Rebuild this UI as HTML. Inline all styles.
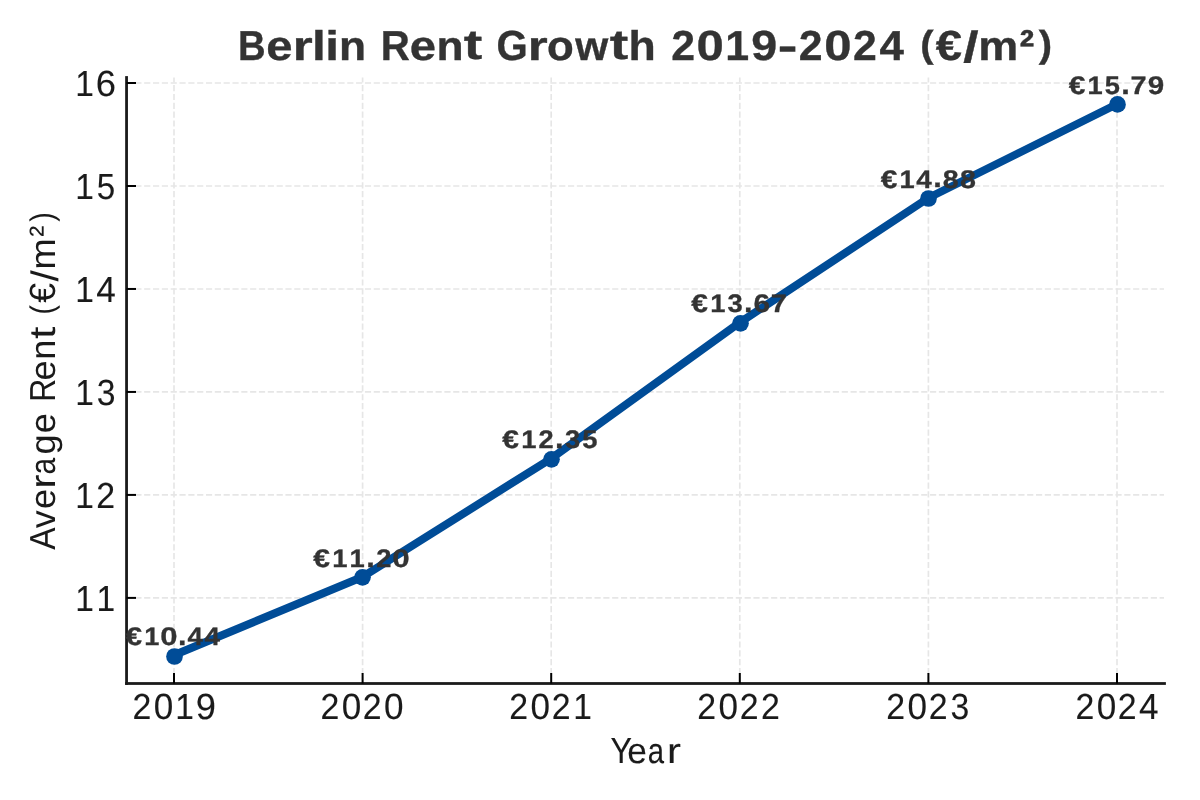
<!DOCTYPE html>
<html><head><meta charset="utf-8"><title>Berlin Rent Growth 2019–2024</title>
<style>
html,body{margin:0;padding:0;background:#fff;}
body{width:1200px;height:800px;overflow:hidden;}
svg{display:block;will-change:transform;}
text{font-family:"Liberation Sans",sans-serif;font-kerning:none;text-rendering:geometricPrecision;}
</style></head>
<body>
<svg width="1200" height="800" viewBox="0 0 1200 800">
<rect width="1200" height="800" fill="#fff"/>
<line x1="126.5" y1="597.90" x2="1164.0" y2="597.90" stroke="#e6e6e6" stroke-width="1.67" stroke-dasharray="6.17 2.66"/>
<line x1="126.5" y1="494.92" x2="1164.0" y2="494.92" stroke="#e6e6e6" stroke-width="1.67" stroke-dasharray="6.17 2.66"/>
<line x1="126.5" y1="391.94" x2="1164.0" y2="391.94" stroke="#e6e6e6" stroke-width="1.67" stroke-dasharray="6.17 2.66"/>
<line x1="126.5" y1="288.96" x2="1164.0" y2="288.96" stroke="#e6e6e6" stroke-width="1.67" stroke-dasharray="6.17 2.66"/>
<line x1="126.5" y1="185.98" x2="1164.0" y2="185.98" stroke="#e6e6e6" stroke-width="1.67" stroke-dasharray="6.17 2.66"/>
<line x1="126.5" y1="83.00" x2="1164.0" y2="83.00" stroke="#e6e6e6" stroke-width="1.67" stroke-dasharray="6.17 2.66"/>
<line x1="174.00" y1="683.5" x2="174.00" y2="77.5" stroke="#e6e6e6" stroke-width="1.67" stroke-dasharray="6.17 2.66" stroke-dashoffset="-0.6"/>
<line x1="362.60" y1="683.5" x2="362.60" y2="77.5" stroke="#e6e6e6" stroke-width="1.67" stroke-dasharray="6.17 2.66" stroke-dashoffset="-0.6"/>
<line x1="551.20" y1="683.5" x2="551.20" y2="77.5" stroke="#e6e6e6" stroke-width="1.67" stroke-dasharray="6.17 2.66" stroke-dashoffset="-0.6"/>
<line x1="739.80" y1="683.5" x2="739.80" y2="77.5" stroke="#e6e6e6" stroke-width="1.67" stroke-dasharray="6.17 2.66" stroke-dashoffset="-0.6"/>
<line x1="928.40" y1="683.5" x2="928.40" y2="77.5" stroke="#e6e6e6" stroke-width="1.67" stroke-dasharray="6.17 2.66" stroke-dashoffset="-0.6"/>
<line x1="1117.00" y1="683.5" x2="1117.00" y2="77.5" stroke="#e6e6e6" stroke-width="1.67" stroke-dasharray="6.17 2.66" stroke-dashoffset="-0.6"/>
<polyline points="174.30,654.97 362.90,576.70 551.50,458.28 740.10,322.34 928.70,197.74 1117.30,104.03" fill="none" stroke="#004c97" stroke-width="8.0" stroke-linejoin="round" stroke-linecap="butt"/>
<circle cx="174.5" cy="656.5" r="8.33" fill="#004c97"/>
<circle cx="362.5" cy="577.3" r="8.33" fill="#004c97"/>
<circle cx="551.5" cy="459.3" r="8.33" fill="#004c97"/>
<circle cx="740.5" cy="323.3" r="8.33" fill="#004c97"/>
<circle cx="928.5" cy="198.5" r="8.33" fill="#004c97"/>
<circle cx="1117.5" cy="104.4" r="8.33" fill="#004c97"/>
<rect x="125.16" y="76.11" width="2.78" height="608.78" fill="#1a1a1a"/>
<rect x="125.16" y="682.11" width="1040.73" height="2.78" fill="#1a1a1a"/>
<line x1="126.5" y1="597.90" x2="136.00" y2="597.90" stroke="#000" stroke-width="2"/>
<line x1="126.5" y1="494.92" x2="136.00" y2="494.92" stroke="#000" stroke-width="2"/>
<line x1="126.5" y1="391.94" x2="136.00" y2="391.94" stroke="#000" stroke-width="2"/>
<line x1="126.5" y1="288.96" x2="136.00" y2="288.96" stroke="#000" stroke-width="2"/>
<line x1="126.5" y1="185.98" x2="136.00" y2="185.98" stroke="#000" stroke-width="2"/>
<line x1="126.5" y1="83.00" x2="136.00" y2="83.00" stroke="#000" stroke-width="2"/>
<line x1="174.00" y1="683.5" x2="174.00" y2="673.00" stroke="#000" stroke-width="2"/>
<line x1="362.60" y1="683.5" x2="362.60" y2="673.00" stroke="#000" stroke-width="2"/>
<line x1="551.20" y1="683.5" x2="551.20" y2="673.00" stroke="#000" stroke-width="2"/>
<line x1="739.80" y1="683.5" x2="739.80" y2="673.00" stroke="#000" stroke-width="2"/>
<line x1="928.40" y1="683.5" x2="928.40" y2="673.00" stroke="#000" stroke-width="2"/>
<line x1="1117.00" y1="683.5" x2="1117.00" y2="673.00" stroke="#000" stroke-width="2"/>
<text font-size="26.49" font-weight="bold" fill="#333333" stroke="#333333" stroke-width="0.3" vector-effect="non-scaling-stroke"><tspan x="125.55" y="644.79" font-size="25.51" textLength="16.60" lengthAdjust="spacingAndGlyphs">€</tspan><tspan x="144.33" y="644.70" font-size="25.30" textLength="15.11" lengthAdjust="spacingAndGlyphs">1</tspan><tspan x="160.33" y="644.79" font-size="25.51" textLength="17.25" lengthAdjust="spacingAndGlyphs">0</tspan><tspan x="177.91" y="644.61" font-size="29.09" textLength="8.51" lengthAdjust="spacingAndGlyphs">.</tspan><tspan x="187.50" y="644.70" font-size="25.30" textLength="15.44" lengthAdjust="spacingAndGlyphs">4</tspan><tspan x="204.61" y="644.70" font-size="25.30" textLength="15.44" lengthAdjust="spacingAndGlyphs">4</tspan></text>
<text font-size="26.49" font-weight="bold" fill="#333333" stroke="#333333" stroke-width="0.3" vector-effect="non-scaling-stroke"><tspan x="313.35" y="567.09" font-size="25.51" textLength="16.75" lengthAdjust="spacingAndGlyphs">€</tspan><tspan x="332.30" y="567.00" font-size="25.30" textLength="15.24" lengthAdjust="spacingAndGlyphs">1</tspan><tspan x="349.56" y="567.00" font-size="25.30" textLength="15.24" lengthAdjust="spacingAndGlyphs">1</tspan><tspan x="366.18" y="566.91" font-size="29.09" textLength="8.58" lengthAdjust="spacingAndGlyphs">.</tspan><tspan x="376.19" y="567.00" font-size="25.38" textLength="15.18" lengthAdjust="spacingAndGlyphs">2</tspan><tspan x="392.38" y="567.09" font-size="25.51" textLength="17.41" lengthAdjust="spacingAndGlyphs">0</tspan></text>
<text font-size="26.49" font-weight="bold" fill="#333333" stroke="#333333" stroke-width="0.3" vector-effect="non-scaling-stroke"><tspan x="502.35" y="447.89" font-size="25.51" textLength="16.72" lengthAdjust="spacingAndGlyphs">€</tspan><tspan x="521.27" y="447.80" font-size="25.30" textLength="15.22" lengthAdjust="spacingAndGlyphs">1</tspan><tspan x="538.45" y="447.80" font-size="25.38" textLength="15.15" lengthAdjust="spacingAndGlyphs">2</tspan><tspan x="555.10" y="447.71" font-size="29.09" textLength="8.57" lengthAdjust="spacingAndGlyphs">.</tspan><tspan x="565.10" y="447.85" font-size="25.45" textLength="15.22" lengthAdjust="spacingAndGlyphs">3</tspan><tspan x="582.37" y="447.89" font-size="25.43" textLength="15.19" lengthAdjust="spacingAndGlyphs">5</tspan></text>
<text font-size="26.49" font-weight="bold" fill="#333333" stroke="#333333" stroke-width="0.3" vector-effect="non-scaling-stroke"><tspan x="691.35" y="311.89" font-size="25.51" textLength="16.71" lengthAdjust="spacingAndGlyphs">€</tspan><tspan x="710.26" y="311.80" font-size="25.30" textLength="15.21" lengthAdjust="spacingAndGlyphs">1</tspan><tspan x="727.44" y="311.85" font-size="25.45" textLength="15.21" lengthAdjust="spacingAndGlyphs">3</tspan><tspan x="744.06" y="311.71" font-size="29.09" textLength="8.56" lengthAdjust="spacingAndGlyphs">.</tspan><tspan x="753.48" y="311.89" font-size="25.47" textLength="16.52" lengthAdjust="spacingAndGlyphs">6</tspan><tspan x="770.66" y="311.80" font-size="25.30" textLength="16.11" lengthAdjust="spacingAndGlyphs">7</tspan></text>
<text font-size="26.49" font-weight="bold" fill="#333333" stroke="#333333" stroke-width="0.3" vector-effect="non-scaling-stroke"><tspan x="880.65" y="187.59" font-size="25.51" textLength="16.67" lengthAdjust="spacingAndGlyphs">€</tspan><tspan x="899.51" y="187.50" font-size="25.30" textLength="15.17" lengthAdjust="spacingAndGlyphs">1</tspan><tspan x="916.31" y="187.50" font-size="25.30" textLength="15.51" lengthAdjust="spacingAndGlyphs">4</tspan><tspan x="933.23" y="187.41" font-size="29.09" textLength="8.54" lengthAdjust="spacingAndGlyphs">.</tspan><tspan x="942.78" y="187.59" font-size="25.51" textLength="15.93" lengthAdjust="spacingAndGlyphs">8</tspan><tspan x="959.95" y="187.59" font-size="25.51" textLength="15.93" lengthAdjust="spacingAndGlyphs">8</tspan></text>
<text font-size="26.49" font-weight="bold" fill="#333333" stroke="#333333" stroke-width="0.3" vector-effect="non-scaling-stroke"><tspan x="1068.65" y="94.09" font-size="25.51" textLength="16.68" lengthAdjust="spacingAndGlyphs">€</tspan><tspan x="1087.52" y="94.00" font-size="25.30" textLength="15.18" lengthAdjust="spacingAndGlyphs">1</tspan><tspan x="1104.71" y="94.09" font-size="25.43" textLength="15.15" lengthAdjust="spacingAndGlyphs">5</tspan><tspan x="1121.26" y="93.91" font-size="29.09" textLength="8.55" lengthAdjust="spacingAndGlyphs">.</tspan><tspan x="1130.62" y="94.00" font-size="25.30" textLength="16.08" lengthAdjust="spacingAndGlyphs">7</tspan><tspan x="1147.65" y="94.09" font-size="25.47" textLength="16.45" lengthAdjust="spacingAndGlyphs">9</tspan></text>
<text font-size="35.32" font-weight="normal" fill="#1a1a1a" stroke="#1a1a1a" stroke-width="0.1" vector-effect="non-scaling-stroke"><tspan x="75.29" y="610.70" font-size="36.20" textLength="18.66" lengthAdjust="spacingAndGlyphs">1</tspan><tspan x="96.50" y="610.70" font-size="36.20" textLength="18.66" lengthAdjust="spacingAndGlyphs">1</tspan></text>
<text font-size="35.32" font-weight="normal" fill="#1a1a1a" stroke="#1a1a1a" stroke-width="0.1" vector-effect="non-scaling-stroke"><tspan x="75.29" y="507.72" font-size="36.20" textLength="18.66" lengthAdjust="spacingAndGlyphs">1</tspan><tspan x="96.13" y="507.72" font-size="36.32" textLength="18.84" lengthAdjust="spacingAndGlyphs">2</tspan></text>
<text font-size="35.32" font-weight="normal" fill="#1a1a1a" stroke="#1a1a1a" stroke-width="0.1" vector-effect="non-scaling-stroke"><tspan x="75.29" y="404.74" font-size="36.20" textLength="18.66" lengthAdjust="spacingAndGlyphs">1</tspan><tspan x="96.65" y="404.87" font-size="36.50" textLength="18.77" lengthAdjust="spacingAndGlyphs">3</tspan></text>
<text font-size="35.32" font-weight="normal" fill="#1a1a1a" stroke="#1a1a1a" stroke-width="0.1" vector-effect="non-scaling-stroke"><tspan x="75.29" y="301.76" font-size="36.20" textLength="18.66" lengthAdjust="spacingAndGlyphs">1</tspan><tspan x="96.21" y="301.76" font-size="36.20" textLength="19.54" lengthAdjust="spacingAndGlyphs">4</tspan></text>
<text font-size="35.32" font-weight="normal" fill="#1a1a1a" stroke="#1a1a1a" stroke-width="0.1" vector-effect="non-scaling-stroke"><tspan x="75.29" y="198.78" font-size="36.20" textLength="18.66" lengthAdjust="spacingAndGlyphs">1</tspan><tspan x="96.64" y="198.91" font-size="36.39" textLength="18.44" lengthAdjust="spacingAndGlyphs">5</tspan></text>
<text font-size="35.32" font-weight="normal" fill="#1a1a1a" stroke="#1a1a1a" stroke-width="0.1" vector-effect="non-scaling-stroke"><tspan x="75.29" y="95.80" font-size="36.20" textLength="18.66" lengthAdjust="spacingAndGlyphs">1</tspan><tspan x="95.87" y="95.93" font-size="36.50" textLength="20.23" lengthAdjust="spacingAndGlyphs">6</tspan></text>
<text font-size="35.32" font-weight="normal" fill="#1a1a1a" stroke="#1a1a1a" stroke-width="0.1" vector-effect="non-scaling-stroke"><tspan x="132.40" y="718.90" font-size="36.32" textLength="18.84" lengthAdjust="spacingAndGlyphs">2</tspan><tspan x="153.70" y="719.03" font-size="36.50" textLength="19.54" lengthAdjust="spacingAndGlyphs">0</tspan><tspan x="175.19" y="718.90" font-size="36.20" textLength="18.66" lengthAdjust="spacingAndGlyphs">1</tspan><tspan x="195.69" y="719.03" font-size="36.50" textLength="20.18" lengthAdjust="spacingAndGlyphs">9</tspan></text>
<text font-size="35.32" font-weight="normal" fill="#1a1a1a" stroke="#1a1a1a" stroke-width="0.1" vector-effect="non-scaling-stroke"><tspan x="320.40" y="718.90" font-size="36.32" textLength="18.84" lengthAdjust="spacingAndGlyphs">2</tspan><tspan x="341.70" y="719.03" font-size="36.50" textLength="19.54" lengthAdjust="spacingAndGlyphs">0</tspan><tspan x="362.82" y="718.90" font-size="36.32" textLength="18.84" lengthAdjust="spacingAndGlyphs">2</tspan><tspan x="384.11" y="719.03" font-size="36.50" textLength="19.54" lengthAdjust="spacingAndGlyphs">0</tspan></text>
<text font-size="35.32" font-weight="normal" fill="#1a1a1a" stroke="#1a1a1a" stroke-width="0.1" vector-effect="non-scaling-stroke"><tspan x="509.30" y="718.90" font-size="36.32" textLength="18.84" lengthAdjust="spacingAndGlyphs">2</tspan><tspan x="530.60" y="719.03" font-size="36.50" textLength="19.54" lengthAdjust="spacingAndGlyphs">0</tspan><tspan x="551.72" y="718.90" font-size="36.32" textLength="18.84" lengthAdjust="spacingAndGlyphs">2</tspan><tspan x="573.29" y="718.90" font-size="36.20" textLength="18.66" lengthAdjust="spacingAndGlyphs">1</tspan></text>
<text font-size="35.32" font-weight="normal" fill="#1a1a1a" stroke="#1a1a1a" stroke-width="0.1" vector-effect="non-scaling-stroke"><tspan x="697.30" y="718.90" font-size="36.32" textLength="18.84" lengthAdjust="spacingAndGlyphs">2</tspan><tspan x="718.60" y="719.03" font-size="36.50" textLength="19.54" lengthAdjust="spacingAndGlyphs">0</tspan><tspan x="739.72" y="718.90" font-size="36.32" textLength="18.84" lengthAdjust="spacingAndGlyphs">2</tspan><tspan x="760.93" y="718.90" font-size="36.32" textLength="18.84" lengthAdjust="spacingAndGlyphs">2</tspan></text>
<text font-size="35.32" font-weight="normal" fill="#1a1a1a" stroke="#1a1a1a" stroke-width="0.1" vector-effect="non-scaling-stroke"><tspan x="886.30" y="718.90" font-size="36.32" textLength="18.84" lengthAdjust="spacingAndGlyphs">2</tspan><tspan x="907.60" y="719.03" font-size="36.50" textLength="19.54" lengthAdjust="spacingAndGlyphs">0</tspan><tspan x="928.72" y="718.90" font-size="36.32" textLength="18.84" lengthAdjust="spacingAndGlyphs">2</tspan><tspan x="950.44" y="719.03" font-size="36.50" textLength="18.77" lengthAdjust="spacingAndGlyphs">3</tspan></text>
<text font-size="35.32" font-weight="normal" fill="#1a1a1a" stroke="#1a1a1a" stroke-width="0.1" vector-effect="non-scaling-stroke"><tspan x="1075.40" y="718.90" font-size="36.32" textLength="18.84" lengthAdjust="spacingAndGlyphs">2</tspan><tspan x="1096.70" y="719.03" font-size="36.50" textLength="19.54" lengthAdjust="spacingAndGlyphs">0</tspan><tspan x="1117.82" y="718.90" font-size="36.32" textLength="18.84" lengthAdjust="spacingAndGlyphs">2</tspan><tspan x="1139.11" y="718.90" font-size="36.20" textLength="19.54" lengthAdjust="spacingAndGlyphs">4</tspan></text>
<text font-size="35.32" font-weight="normal" fill="#1a1a1a" stroke="#1a1a1a" stroke-width="0.1" vector-effect="non-scaling-stroke"><tspan x="610.49" y="762.80" font-size="36.20" textLength="21.46" lengthAdjust="spacingAndGlyphs">Y</tspan><tspan x="627.15" y="762.93" font-size="35.81" textLength="19.59" lengthAdjust="spacingAndGlyphs">e</tspan><tspan x="647.63" y="762.93" font-size="35.81" textLength="16.31" lengthAdjust="spacingAndGlyphs">a</tspan><tspan x="667.08" y="762.80" font-size="35.56" textLength="13.91" lengthAdjust="spacingAndGlyphs">r</tspan></text>
<g transform="translate(54.80 549.70) rotate(-90)"><text font-size="35.32" font-weight="normal" fill="#1a1a1a"><tspan x="-0.07" y="0.00" font-size="36.20" textLength="22.39" lengthAdjust="spacingAndGlyphs">A</tspan><tspan x="21.45" y="0.00" font-size="35.37" textLength="17.98" lengthAdjust="spacingAndGlyphs">v</tspan><tspan x="40.61" y="0.13" font-size="35.81" textLength="20.02" lengthAdjust="spacingAndGlyphs">e</tspan><tspan x="61.00" y="0.00" font-size="35.56" textLength="14.22" lengthAdjust="spacingAndGlyphs">r</tspan><tspan x="75.24" y="0.13" font-size="35.81" textLength="16.67" lengthAdjust="spacingAndGlyphs">a</tspan><tspan x="95.25" y="-0.21" font-size="35.27" textLength="20.14" lengthAdjust="spacingAndGlyphs">g</tspan><tspan x="116.39" y="0.13" font-size="35.81" textLength="20.02" lengthAdjust="spacingAndGlyphs">e</tspan> <tspan x="147.83" y="0.00" font-size="36.20" textLength="23.02" lengthAdjust="spacingAndGlyphs">R</tspan><tspan x="169.14" y="0.13" font-size="35.81" textLength="20.02" lengthAdjust="spacingAndGlyphs">e</tspan><tspan x="189.97" y="0.00" font-size="35.56" textLength="19.98" lengthAdjust="spacingAndGlyphs">n</tspan><tspan x="210.68" y="-0.29" font-size="36.67" textLength="12.37" lengthAdjust="spacingAndGlyphs">t</tspan> <tspan x="235.23" y="-2.26" font-size="32.66" textLength="9.38" lengthAdjust="spacingAndGlyphs">(</tspan><tspan x="246.84" y="0.13" font-size="36.50" textLength="19.77" lengthAdjust="spacingAndGlyphs">€</tspan><tspan x="268.32" y="2.80" font-size="38.23" textLength="11.23" lengthAdjust="spacingAndGlyphs">/</tspan><tspan x="280.05" y="0.00" font-size="35.56" textLength="31.63" lengthAdjust="spacingAndGlyphs">m</tspan><tspan x="312.87" y="-1.82" font-size="33.93" textLength="11.02" lengthAdjust="spacingAndGlyphs">²</tspan><tspan x="327.87" y="-2.26" font-size="32.66" textLength="9.38" lengthAdjust="spacingAndGlyphs">)</tspan></text></g>
<text font-size="41.21" font-weight="bold" fill="#333333" stroke="#333333" stroke-width="0.35" vector-effect="non-scaling-stroke"><tspan x="237.94" y="59.70" font-size="41.83" textLength="27.63" lengthAdjust="spacingAndGlyphs">B</tspan><tspan x="266.39" y="59.85" font-size="41.37" textLength="26.28" lengthAdjust="spacingAndGlyphs">e</tspan><tspan x="292.82" y="59.70" font-size="41.05" textLength="19.95" lengthAdjust="spacingAndGlyphs">r</tspan><tspan x="311.92" y="59.70" font-size="41.39" textLength="13.76" lengthAdjust="spacingAndGlyphs">l</tspan><tspan x="325.24" y="59.70" font-size="41.39" textLength="13.76" lengthAdjust="spacingAndGlyphs">i</tspan><tspan x="339.11" y="59.70" font-size="41.05" textLength="27.04" lengthAdjust="spacingAndGlyphs">n</tspan> <tspan x="380.85" y="59.70" font-size="41.83" textLength="29.11" lengthAdjust="spacingAndGlyphs">R</tspan><tspan x="409.74" y="59.85" font-size="41.37" textLength="26.28" lengthAdjust="spacingAndGlyphs">e</tspan><tspan x="436.63" y="59.70" font-size="41.05" textLength="27.04" lengthAdjust="spacingAndGlyphs">n</tspan><tspan x="463.81" y="59.33" font-size="41.92" textLength="18.52" lengthAdjust="spacingAndGlyphs">t</tspan> <tspan x="496.38" y="59.85" font-size="42.17" textLength="31.25" lengthAdjust="spacingAndGlyphs">G</tspan><tspan x="527.89" y="59.70" font-size="41.05" textLength="19.95" lengthAdjust="spacingAndGlyphs">r</tspan><tspan x="547.13" y="59.85" font-size="41.37" textLength="26.80" lengthAdjust="spacingAndGlyphs">o</tspan><tspan x="575.38" y="59.70" font-size="40.86" textLength="33.00" lengthAdjust="spacingAndGlyphs">w</tspan><tspan x="609.65" y="59.33" font-size="41.92" textLength="18.52" lengthAdjust="spacingAndGlyphs">t</tspan><tspan x="628.54" y="59.70" font-size="41.39" textLength="27.26" lengthAdjust="spacingAndGlyphs">h</tspan> <tspan x="671.20" y="59.70" font-size="41.96" textLength="23.79" lengthAdjust="spacingAndGlyphs">2</tspan><tspan x="696.58" y="59.85" font-size="42.17" textLength="27.28" lengthAdjust="spacingAndGlyphs">0</tspan><tspan x="725.39" y="59.70" font-size="41.83" textLength="23.89" lengthAdjust="spacingAndGlyphs">1</tspan><tspan x="751.16" y="59.85" font-size="42.11" textLength="25.90" lengthAdjust="spacingAndGlyphs">9</tspan><tspan x="778.97" y="61.79" font-size="48.10" textLength="17.15" lengthAdjust="spacingAndGlyphs">–</tspan><tspan x="798.85" y="59.70" font-size="41.96" textLength="23.79" lengthAdjust="spacingAndGlyphs">2</tspan><tspan x="824.23" y="59.85" font-size="42.17" textLength="27.28" lengthAdjust="spacingAndGlyphs">0</tspan><tspan x="852.96" y="59.70" font-size="41.96" textLength="23.79" lengthAdjust="spacingAndGlyphs">2</tspan><tspan x="879.50" y="59.70" font-size="41.83" textLength="24.42" lengthAdjust="spacingAndGlyphs">4</tspan> <tspan x="920.35" y="57.08" font-size="37.71" textLength="13.35" lengthAdjust="spacingAndGlyphs">(</tspan><tspan x="935.81" y="59.85" font-size="42.17" textLength="26.25" lengthAdjust="spacingAndGlyphs">€</tspan><tspan x="963.29" y="62.49" font-size="43.56" textLength="15.27" lengthAdjust="spacingAndGlyphs">/</tspan><tspan x="978.29" y="59.70" font-size="41.05" textLength="39.96" lengthAdjust="spacingAndGlyphs">m</tspan><tspan x="1019.50" y="62.39" font-size="45.94" textLength="14.82" lengthAdjust="spacingAndGlyphs">²</tspan><tspan x="1038.65" y="57.08" font-size="37.71" textLength="13.35" lengthAdjust="spacingAndGlyphs">)</tspan></text>
</svg>
</body></html>
